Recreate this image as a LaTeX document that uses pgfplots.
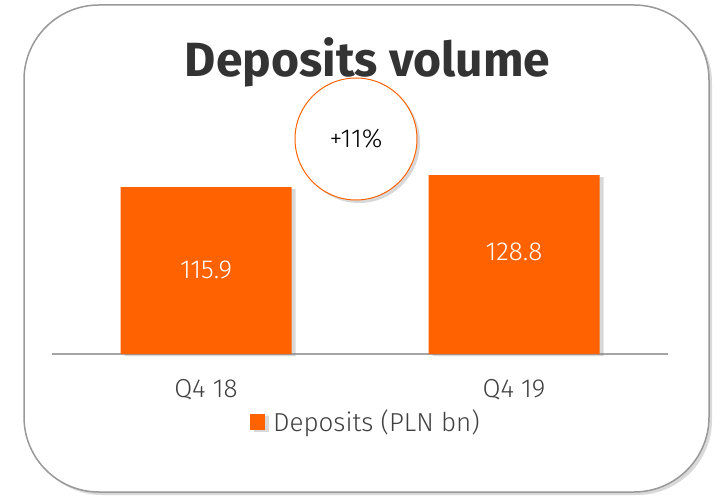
\documentclass[border=0pt]{standalone}
\usepackage{fontspec}
\setmainfont{Fira Sans}
\newfontfamily\lightfont{Fira Sans Light}
\usepackage{pgfplots}
\pgfplotsset{compat=1.18}
\usetikzlibrary{shadows}
\definecolor{ingorange}{HTML}{FF6200}
\definecolor{titlegray}{HTML}{333333}
\definecolor{textgray}{HTML}{404040}
\definecolor{linegray}{HTML}{A6A6A6}
\begin{document}
\begin{tikzpicture}[x=1pt,y=1pt]
\useasboundingbox (0,0) rectangle (726,496);
\draw[draw=gray!80, line width=1.5pt, fill=white, rounded corners=75pt,
  drop shadow={shadow xshift=3pt, shadow yshift=-3pt, opacity=0.3}] (24,4) rectangle (709,491);
\node[anchor=base, font=\fontsize{48}{50}\selectfont\bfseries, text=titlegray] at (367.5,419) {Deposits volume};
\begin{axis}[
  at={(52pt,142pt)}, anchor=south west,
  scale only axis, width=616pt, height=233pt,
  xmin=-0.5, xmax=1.5, ymin=-63.6, ymax=186.9,
  y coord trafo/.code={\pgfmathparse{#1+63.6}},
  y coord inv trafo/.code={\pgfmathparse{#1-63.6}},
  axis x line*=bottom, axis y line=none,
  x axis line style={draw=linegray, line width=2pt, -},
  xtick={0,1}, xticklabels={Q4 18, Q4 19}, major tick length=0pt,
  xticklabel style={font=\lightfont\fontsize{26}{30}\selectfont, text=textgray, yshift=-22pt},
  legend style={at={(0.5,-0.29)}, anchor=center, xshift=6pt, draw=none, fill=none,
    font=\lightfont\fontsize{26}{30}\selectfont, text=textgray, column sep=6pt},
  legend image code/.code={\fill[ingorange] (0pt,-8pt) rectangle (15pt,8pt);},
  clip=false,
]
\addplot[ybar, bar width=171pt, fill=ingorange, draw=none,
  drop shadow={shadow xshift=4pt, shadow yshift=-2pt, opacity=0.3}]
  coordinates {(0,115.9) (1,128.8)};
\addlegendentry{Deposits (PLN bn)}
\addplot[draw=none, mark=none, forget plot, nodes near coords, point meta=explicit symbolic,
  every node near coord/.append style={anchor=center, text=white, font=\lightfont\fontsize{26}{30}\selectfont}]
  coordinates {(0,26.7)[115.9] (1,46.1)[128.8]};
\end{axis}
\node[circle, draw=ingorange, line width=1pt, fill=white, minimum size=122pt,
  drop shadow={shadow xshift=3pt, shadow yshift=-3pt, opacity=0.3},
  font=\lightfont\fontsize{26}{28}\selectfont, text=black] at (356,357) {+11\%};
\end{tikzpicture}
\end{document}
